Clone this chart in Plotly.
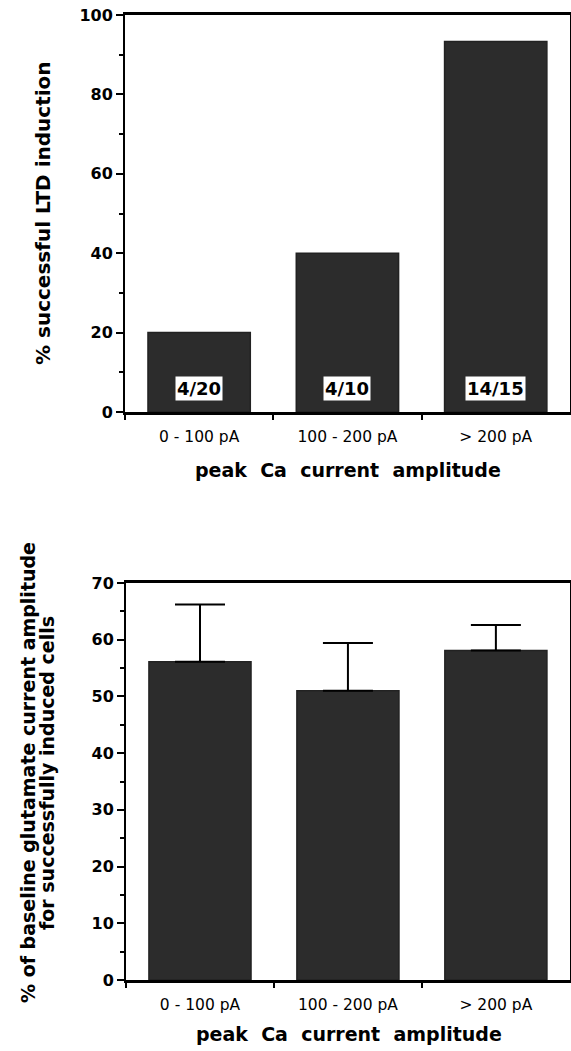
import plotly.graph_objects as go

# ---- data ----
categories = ["0 - 100 pA", "100 - 200 pA", "> 200 pA"]
ltd_success_pct = [20, 40, 93.3]
ltd_counts = ["4/20", "4/10", "14/15"]
count_label_y = [6, 6, 6]
glut_pct = [56.1, 51.0, 58.1]
glut_err_up = [10.1, 8.4, 4.5]
glut_err_down = [0, 0, 0]

top_ticks = [0, 20, 40, 60, 80, 100]
bot_ticks = [0, 10, 20, 30, 40, 50, 60, 70]

W, H = 571, 1051
BAR = "#2c2c2c"
EDGE = "#222222"
FONT = "DejaVu Sans"

def px_x(p):
    return p / W

def px_y(p):
    return 1 - p / H

fig = go.Figure()
fig.add_trace(go.Bar(
    x=categories, y=ltd_success_pct, xaxis="x", yaxis="y", width=0.69,
    marker=dict(color=BAR, line=dict(color=EDGE, width=1.5)),
    showlegend=False, hoverinfo="skip"))
fig.add_trace(go.Bar(
    x=categories, y=glut_pct, xaxis="x2", yaxis="y2", width=0.69,
    marker=dict(color=BAR, line=dict(color=EDGE, width=1.5)),
    error_y=dict(type="data", symmetric=False, array=glut_err_up,
                 arrayminus=glut_err_down, color="black", thickness=2, width=25),
    showlegend=False, hoverinfo="skip"))

xaxis_common = dict(
    type="category", tickson="boundaries", ticks="outside", ticklen=5,
    tickwidth=2, tickcolor="black", showline=True, linewidth=2.5,
    linecolor="black", mirror=True, showgrid=False, zeroline=False,
    tickfont=dict(family=FONT, size=15.5, color="black"),
    ticklabelstandoff=9, range=[-0.5, 2.5])

yaxis_common = dict(
    ticks="outside", ticklen=7, tickwidth=2, tickcolor="black",
    showline=True, linewidth=2, linecolor="black", mirror=True,
    showgrid=False, zeroline=False,
    tickfont=dict(family=FONT, size=16, color="black", weight="bold"))

fig.update_layout(
    width=W, height=H, margin=dict(l=0, r=0, t=0, b=0),
    paper_bgcolor="white", plot_bgcolor="white", template="none",
    bargap=0.3, showlegend=False,
    xaxis=dict(domain=[px_x(125), 0.998], anchor="y", **xaxis_common),
    yaxis=dict(domain=[px_y(412), px_y(15)], anchor="x", range=[0, 100],
               tickvals=top_ticks,
               minor=dict(dtick=10, ticks="outside", ticklen=4, tickwidth=1.5,
                          tickcolor="black"),
               **yaxis_common),
    xaxis2=dict(domain=[px_x(126), 0.998], anchor="y2", **xaxis_common),
    yaxis2=dict(domain=[px_y(980), px_y(583)], anchor="x2", range=[0, 70],
                tickvals=bot_ticks,
                minor=dict(dtick=5, ticks="outside", ticklen=4, tickwidth=1.5,
                           tickcolor="black"),
                **yaxis_common),
)

annotations = []
for cat, lab, yy in zip(categories, ltd_counts, count_label_y):
    annotations.append(dict(
        x=cat, y=yy, xref="x", yref="y", text=lab, showarrow=False,
        xanchor="center", yanchor="middle",
        font=dict(family=FONT, size=18, color="black", weight="bold"),
        bgcolor="white", borderpad=1))

title_font = dict(family=FONT, size=19, color="black", weight="bold")
C = dict(xref="paper", yref="paper", showarrow=False,
         xanchor="center", yanchor="middle")
annotations += [
    dict(x=px_x(348), y=px_y(470), text="peak  Ca  current  amplitude",
         font=title_font, **C),
    dict(x=px_x(349), y=px_y(1034), text="peak  Ca  current  amplitude",
         font=title_font, **C),
    dict(x=px_x(43), y=px_y(213), text="% successful LTD induction",
         textangle=-90,
         font=dict(family=FONT, size=20, color="black", weight="bold"), **C),
    dict(x=px_x(28), y=px_y(773),
         text="% of baseline glutamate current amplitude", textangle=-90,
         font=title_font, **C),
    dict(x=px_x(47), y=px_y(773), text="for successfully induced cells",
         textangle=-90, font=title_font, **C),
]
fig.update_layout(annotations=annotations)

fig.write_html("out.html")
